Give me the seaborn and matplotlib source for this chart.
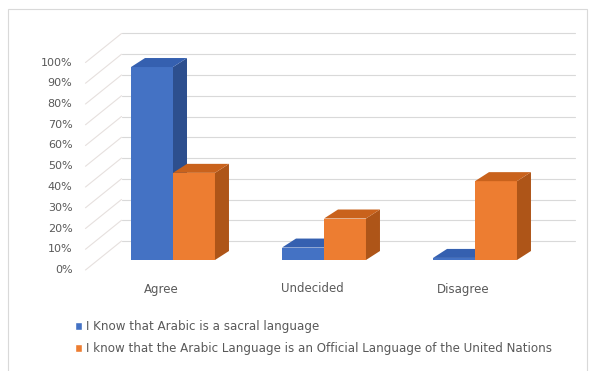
import pandas as pd
import seaborn as sns
import matplotlib.pyplot as plt
from matplotlib.patches import Polygon, Rectangle

# Chart data (percent of respondents)
responses = ['Agree', 'Undecided', 'Disagree']
sacral = [93, 6, 1]
official = [42, 20, 38]
series_names = ['I Know that Arabic is a sacral language',
                'I know that the Arabic Language is an Official Language of the United Nations']
yticks = list(range(0, 101, 10))
ytick_labels = [f'{t}%' for t in yticks]

df = pd.DataFrame({
    'response': responses * 2,
    'value': sacral + official,
    'statement': [series_names[0]] * len(responses) + [series_names[1]] * len(responses),
})

front_colors = ['#4472C4', '#ED7D31']
top_colors = ['#3560B0', '#C9621C']
side_colors = ['#2D4F8E', '#AE5518']
text_color = '#595959'

sns.set_theme(style='white')
plt.rcParams['font.family'] = ['DejaVu Sans']

W, H = 604, 371
PX_X, PX_Y = 151.0, 2.075   # pixels per category / per percent in the bar plane
fig = plt.figure(figsize=(W / 100, H / 100), dpi=100)
ax = fig.add_axes([97.5 / W, (H - 260) / H, 3 * PX_X / W, 100 * PX_Y / H])

sns.barplot(data=df, x='response', y='value', hue='statement', palette=front_colors,
            width=0.556, saturation=1, errorbar=None, ax=ax)
handles, labels = ax.get_legend_handles_labels()
ax.get_legend().remove()
ax.set_xlim(-0.5, 2.5)
ax.set_ylim(0, 100)
ax.set_axis_off()

# oblique offsets (in data units) for the fake 3D look
depth = (14 / PX_X, 9 / PX_Y)
back = (24 / PX_X, 19 / PX_Y)
front = (-12 / PX_X, -10 / PX_Y)

# walls: side wall diagonals + back wall gridlines
for t in yticks:
    ax.plot([-0.5 + front[0], -0.5 + back[0]], [t + front[1], t + back[1]],
            color='#e6e0de', lw=0.8, zorder=0.5, clip_on=False)
    ax.plot([-0.5 + back[0], 2.5 + back[0]], [t + back[1], t + back[1]],
            color='#d9d9d9', lw=0.8, zorder=0.5, clip_on=False)

for t, lab in zip(yticks, ytick_labels):
    ax.text(-0.5 + front[0] - 13 / PX_X, t + front[1], lab, ha='right', va='center',
            fontsize=8, color=text_color)

for i, r in enumerate(responses):
    ax.text(i + front[0], front[1] - 19 / PX_Y, r, ha='center', va='center',
            fontsize=8.5, color=text_color)

# side and top faces built from the bar rectangles
dx, dy = depth
for k, container in enumerate(ax.containers):
    for bar in container:
        bar.set_zorder(2 + k)
        bar.set_edgecolor('none')
        x0, w, h = bar.get_x(), bar.get_width(), bar.get_height()
        x1 = x0 + w
        side = Polygon([(x1, 0), (x1 + dx, dy), (x1 + dx, h + dy), (x1, h)],
                       closed=True, facecolor=side_colors[k], edgecolor='none',
                       zorder=2.1 + k)
        top = Polygon([(x0, h), (x1, h), (x1 + dx, h + dy), (x0 + dx, h + dy)],
                      closed=True, facecolor=top_colors[k], edgecolor='none',
                      zorder=2.2 + k)
        ax.add_patch(side)
        ax.add_patch(top)
        side.set_clip_on(False)
        top.set_clip_on(False)

fig.legend(handles, labels, loc='upper left', bbox_to_anchor=(69 / W, 1 - 314 / H),
           frameon=False, fontsize=8.6, labelcolor=text_color, borderpad=0,
           handlelength=0.6, handleheight=0.6, handletextpad=0.35, labelspacing=0.75)

# light chart-area border
fig.add_artist(Rectangle((8 / W, -0.05), (587 - 8) / W, (H - 9) / H + 0.05,
                         transform=fig.transFigure, fill=False,
                         edgecolor='#d9d9d9', lw=0.8))

plt.savefig('out.png', dpi=100)
plt.close()
